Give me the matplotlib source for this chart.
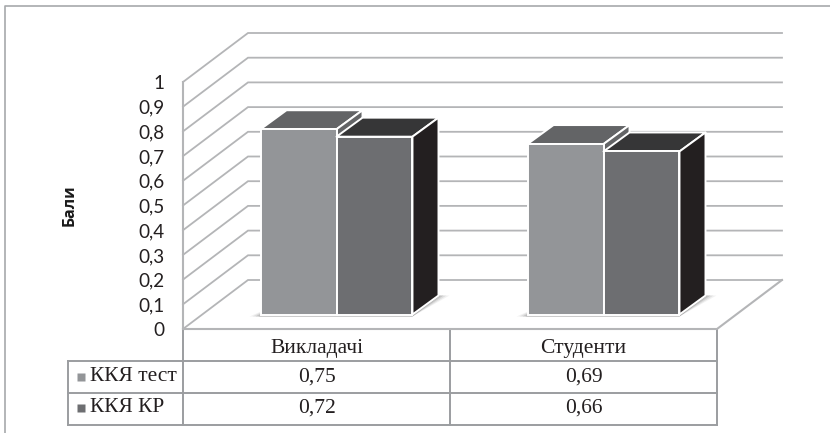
import matplotlib
matplotlib.use("Agg")
import matplotlib.pyplot as plt
from matplotlib.patches import Polygon

# Survey scores by respondent group
categories = ["Викладачі", "Студенти"]
series_names = ["ККЯ тест", "ККЯ КР"]
test_scores = [0.75, 0.69]
kr_scores = [0.72, 0.66]
y_ticks = [0, 0.1, 0.2, 0.3, 0.4, 0.5, 0.6, 0.7, 0.8, 0.9, 1]

W, H = 830, 433
GRID = "#b4b5b7"
TEXT = "#231f20"
FRONT = ["#939598", "#6d6e71"]
TOPS = ["#636466", "#363637"]
SIDES = ["#636466", "#231f20"]

# Sizes are in output pixels
FX0, FX1, FY0, FY1 = 183, 717, 329, 82
WALL_DX, WALL_DY = 65, 49
BAR_SHIFT_X, BAR_SHIFT_Y = 20, 14.5
BAR_DX, BAR_DY = 26, 19
BAR_W = 0.2846

fig = plt.figure(figsize=(W / 100, H / 100), dpi=100, facecolor="white")

# Overlay in pixel units for the frame and the data table
px = fig.add_axes([0, 0, 1, 1])
px.set_xlim(0, W)
px.set_ylim(H, 0)
px.axis("off")

# Value axes: the front plane of the 3D box
ax = fig.add_axes([FX0 / W, 1 - FY0 / H, (FX1 - FX0) / W, (FY0 - FY1) / H])
ax.set_xlim(0, len(categories))
ax.set_ylim(0, 1)
ax.patch.set_alpha(0)
for s in ax.spines.values():
    s.set_visible(False)
ax.set_xticks([])
ax.set_yticks(y_ticks)
ax.set_yticklabels([f"{t:g}".replace(".", ",") for t in y_ticks],
                   family="Lato", fontsize=13.6, color=TEXT)
ax.tick_params(axis="y", length=0, pad=13.5)

ux = (FX1 - FX0) / len(categories)   # pixels per category
uy = FY0 - FY1                       # pixels per unit of value


def shift(x, v, dx_px, dy_px):
    """Move a data point by a pixel offset (up and to the right)."""
    return (x + dx_px / ux, v + dy_px / uy)


# Side wall and back wall gridlines
for t in y_ticks:
    a, b = shift(0, t, 0, 0), shift(0, t, WALL_DX, WALL_DY)
    c = shift(len(categories), t, WALL_DX, WALL_DY)
    ax.plot([a[0], b[0], c[0]], [a[1], b[1], c[1]], color=GRID, lw=1.3,
            clip_on=False, zorder=1, solid_joinstyle="miter")
ax.plot([0, 0], [0, 1], color=GRID, lw=1.5, clip_on=False, zorder=1)
# Front and right edges of the floor
c = shift(len(categories), 0, WALL_DX, WALL_DY)
ax.plot([0, len(categories), c[0]], [0, 0, c[1]], color=GRID, lw=1.5,
        clip_on=False, zorder=1)


def project(x, val, depth):
    return shift(x, val, BAR_SHIFT_X + depth * BAR_DX, BAR_SHIFT_Y + depth * BAR_DY)


# Bars: the second series of each group is drawn last, covering the first one's side
for i, cat_center in enumerate([0.5, 1.5]):
    # Soft floor shadow
    for grow, alpha in [(11, .08), (8, .12), (5, .18), (2, .28)]:
        sh = [shift(cat_center - BAR_W, 0, BAR_SHIFT_X - grow, BAR_SHIFT_Y - 2),
              shift(cat_center + BAR_W, 0, BAR_SHIFT_X, BAR_SHIFT_Y - 2),
              shift(cat_center + BAR_W, 0, BAR_SHIFT_X + BAR_DX + grow, BAR_SHIFT_Y + BAR_DY),
              shift(cat_center - BAR_W, 0, BAR_SHIFT_X + BAR_DX + grow, BAR_SHIFT_Y + BAR_DY)]
        ax.add_patch(Polygon(sh, closed=True, fc="#555555", ec="none",
                             alpha=alpha, clip_on=False, zorder=1.5))
    for j, vals in enumerate([test_scores, kr_scores]):
        v = vals[i]
        left = cat_center - BAR_W + j * BAR_W
        right = left + BAR_W
        z = 3 + j
        ax.add_patch(Polygon([project(left, v, 0), project(right, v, 0),
                              project(right, v, 1), project(left, v, 1)],
                             closed=True, fc=TOPS[j], ec="white", lw=1.4,
                             joinstyle="round", clip_on=False, zorder=z))
        ax.add_patch(Polygon([project(right, 0, 0), project(right, 0, 1),
                              project(right, v, 1), project(right, v, 0)],
                             closed=True, fc=SIDES[j], ec="white", lw=1.4,
                             joinstyle="round", clip_on=False, zorder=z))
        fx, fy = project(left, 0, 0)
        ax.bar(fx, v, BAR_W, bottom=fy, align="edge", color=FRONT[j], edgecolor="white",
               linewidth=1.4, clip_on=False, zorder=z + 0.1)

# Axis title
fig.text(70 / W, 1 - 205 / H, "Бали", family="Open Sans", fontweight="bold",
         fontsize=11.5, rotation=90, ha="center", va="center", color="#1a1a1a")

# Outer chart frame
px.plot([5, 5, W], [H, 6, 6], color="#a7a9ac", lw=1.2, zorder=0)

# Data table below the plot
col_x = [67.5, FX0, 450, FX1]
row_y = [FY0, 361, 393, 424.5]
line = dict(color="#9b9da0", lw=1.4, zorder=2, solid_capstyle="projecting")
px.plot([FX0, FX0], [row_y[0], row_y[3]], **line)
px.plot([450, 450], [row_y[0], row_y[3]], **line)
px.plot([FX1, FX1], [row_y[0], row_y[3]], **line)
px.plot([col_x[0], col_x[0]], [row_y[1], row_y[3]], **line)
for y in row_y[1:]:
    px.plot([col_x[0], FX1], [y, y], **line)

serif = dict(family="Liberation Serif", fontsize=15.5, color=TEXT, ha="center", va="center")
for k, cat in enumerate(categories):
    px.text((col_x[k + 1] + col_x[k + 2]) / 2, 348, cat, **serif)
    px.text((col_x[k + 1] + col_x[k + 2]) / 2, 377, f"{test_scores[k]:.2f}".replace(".", ","), **serif)
    px.text((col_x[k + 1] + col_x[k + 2]) / 2, 408, f"{kr_scores[k]:.2f}".replace(".", ","), **serif)

for r, name in enumerate(series_names):
    yc = [376.5, 408][r]
    px.plot([80.5], [yc], marker="s", ms=6, color=FRONT[r], mec="none", zorder=3)
    px.text(90, yc, name, family="Liberation Serif", fontsize=15.5, color=TEXT,
            ha="left", va="center")

fig.savefig("out.png", dpi=100, facecolor="white")
